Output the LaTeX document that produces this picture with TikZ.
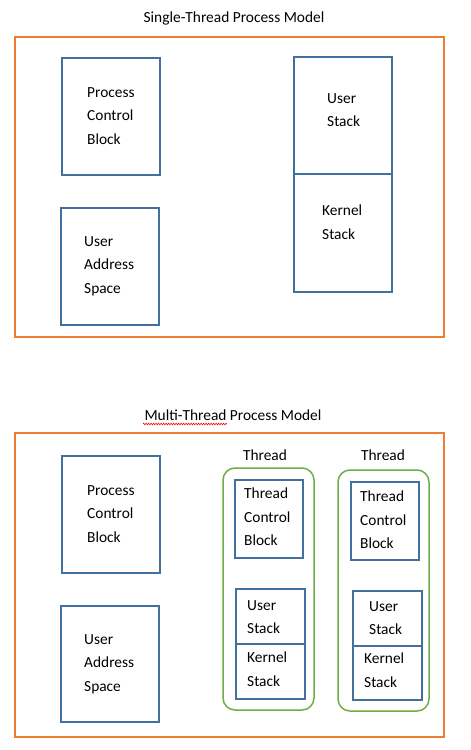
\documentclass[tikz,border=0pt]{standalone}
\usepackage{fontspec}
\setmainfont{Carlito}
\usetikzlibrary{decorations.pathmorphing}
\definecolor{frameorange}{HTML}{ED7D31}
\definecolor{boxblue}{HTML}{41719C}
\definecolor{threadgreen}{HTML}{70AD47}
\begin{document}
\begin{tikzpicture}[x=1pt,y=-1pt,
  txt/.style={font=\fontsize{15.4}{23.5}\selectfont, align=left, inner sep=0pt, anchor=west},
  ttl/.style={font=\fontsize{15.4}{18}\selectfont, inner sep=0pt},
  frame/.style={draw=frameorange, line width=2pt},
  blk/.style={draw=boxblue, line width=2pt},
  thr/.style={draw=threadgreen, line width=1.5pt, rounded corners=12pt}]
\useasboundingbox (0,0) rectangle (471,750);
% ---- Single-thread
\node[ttl] (t1) at (234,18) {Single-Thread Process Model};
\draw[frame] (15,37) rectangle (444,337);
\draw[blk] (62,58) rectangle (160,175);
\node[txt] (pcb) at (87,116) {Process\\Control\\Block};
\draw[blk] (61,208) rectangle (159,325);
\node[txt] (uas) at (84,266) {User\\Address\\Space};
\draw[blk] (294,57) rectangle (392,174);
\node[txt] (us) at (327,110) {User\\Stack};
\draw[blk] (294,174) rectangle (392,292);
\node[txt] (ks) at (322,222) {Kernel\\Stack};
% ---- Multi-thread
\node[ttl] (t2) at (233,415) {Multi-Thread Process Model};
\draw[red, line width=0.6pt, decorate, decoration={zigzag, amplitude=0.8pt, segment length=2.5pt}] (143,424) -- (227,424);
\draw[frame] (15,433) rectangle (444,737);
\draw[blk] (62,456) rectangle (160,573);
\node[txt] (pcb2) at (87,514) {Process\\Control\\Block};
\draw[blk] (61,606) rectangle (159,722);
\node[txt] (uas2) at (84,664) {User\\Address\\Space};
% thread 1
\node[ttl] (th1) at (265,455) {Thread};
\draw[thr] (223,468) rectangle (314,710);
\draw[blk] (235,480) rectangle (303,558);
\node[txt] (tcb1) at (244,517) {Thread\\Control\\Block};
\draw[blk] (236,589) rectangle (305,644);
\node[txt] (us1) at (247,617) {User\\Stack};
\draw[blk] (236,644) rectangle (305,699);
\node[txt] (ks1) at (247,669) {Kernel\\Stack};
% thread 2
\node[ttl] (th2) at (383,455) {Thread};
\draw[thr] (338,470) rectangle (429,711);
\draw[blk] (351,482) rectangle (419,560);
\node[txt] (tcb2) at (360,520) {Thread\\Control\\Block};
\draw[blk] (353,591) rectangle (422,646);
\node[txt] (us2) at (369,618) {User\\Stack};
\draw[blk] (353,646) rectangle (422,700);
\node[txt] (ks2) at (364,670) {Kernel\\Stack};
\end{tikzpicture}
\end{document}
